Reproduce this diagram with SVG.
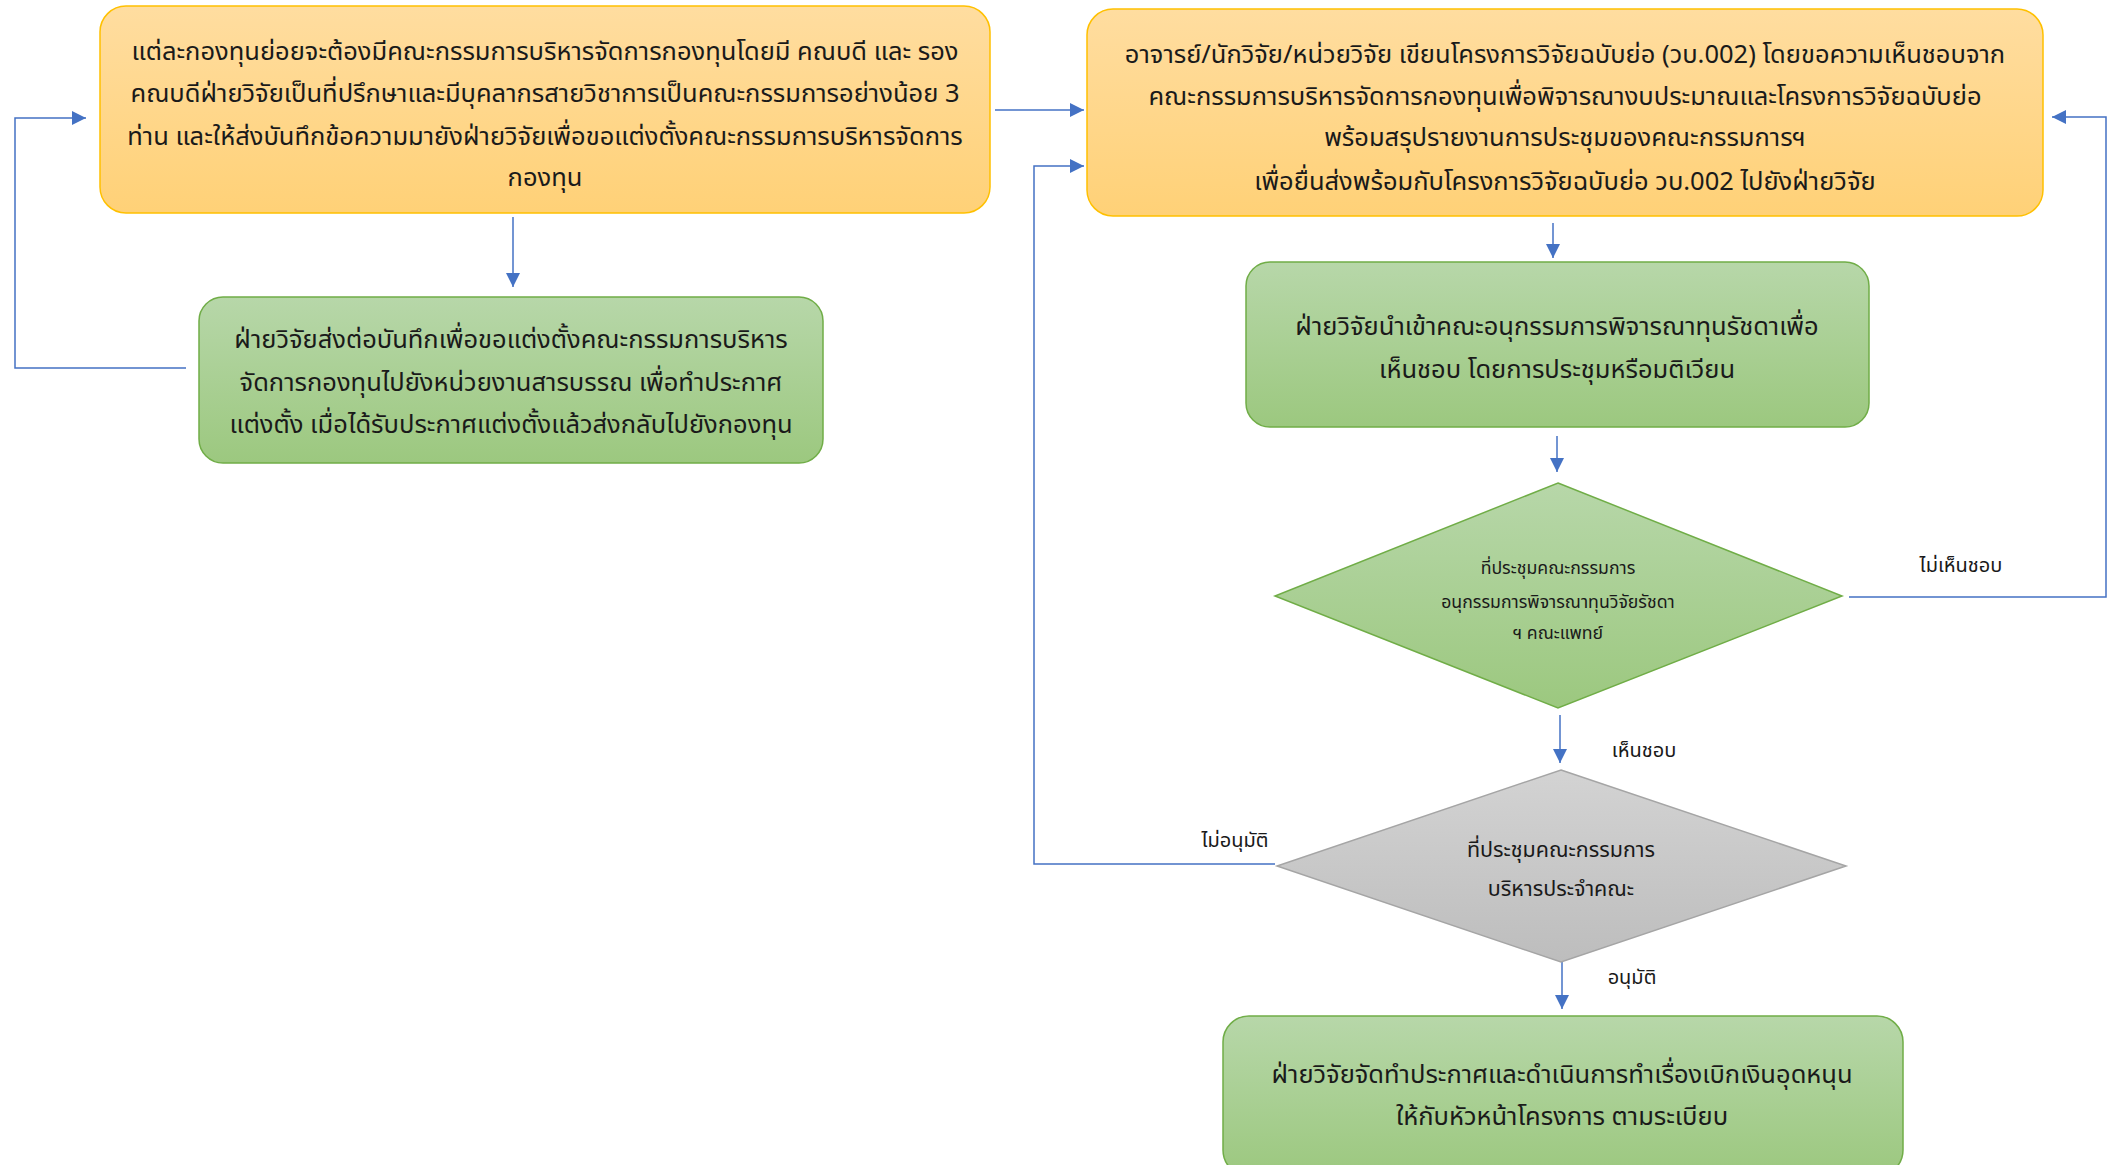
<svg xmlns="http://www.w3.org/2000/svg" width="2119" height="1165" viewBox="0 0 2119 1165">
<defs>
<linearGradient id="gOrange" x1="0" y1="0" x2="0" y2="1"><stop offset="0" stop-color="#FFDDA0"/><stop offset="1" stop-color="#FFD177"/></linearGradient>
<linearGradient id="gGreen" x1="0" y1="0" x2="0" y2="1"><stop offset="0" stop-color="#B7D7A9"/><stop offset="1" stop-color="#9CC87F"/></linearGradient>
<linearGradient id="gGray" x1="0" y1="0" x2="0" y2="1"><stop offset="0" stop-color="#D3D3D3"/><stop offset="1" stop-color="#BDBDBD"/></linearGradient>
<marker id="arr" markerUnits="userSpaceOnUse" markerWidth="16" markerHeight="14" refX="14" refY="7" orient="auto"><path d="M0,0 L14,7 L0,14 Z" fill="#4472C4"/></marker>
<style>
.orange{fill:url(#gOrange);stroke:#FFC000;stroke-width:1.5}
.green{fill:url(#gGreen);stroke:#70AD47;stroke-width:1.5}
.gray{fill:url(#gGray);stroke:#A5A5A5;stroke-width:1.5}
.t{font-family:'Noto Sans Thai','Noto Sans','DejaVu Sans',sans-serif;font-size:25.5px;fill:#1a1a1a;text-anchor:middle}
.ts{font-family:'Noto Sans Thai','Noto Sans','DejaVu Sans',sans-serif;font-size:17.7px;fill:#1a1a1a;text-anchor:middle}
.tm{font-family:'Noto Sans Thai','Noto Sans','DejaVu Sans',sans-serif;font-size:20px;fill:#1a1a1a;text-anchor:middle}
.tl{font-family:'Noto Sans Thai','Noto Sans','DejaVu Sans',sans-serif;font-size:21.5px;fill:#1a1a1a;text-anchor:middle}
.c{fill:none;stroke:#4472C4;stroke-width:1.5;marker-end:url(#arr)}
.cn{fill:none;stroke:#4472C4;stroke-width:1.5}
</style>
</defs>
<g id="connectors">
<path class="c" d="M513,217 V287"/>
<path class="c" d="M186,368 H15 V118 H86"/>
<path class="c" d="M995,110 H1084"/>
<path class="c" d="M1275,864 H1034 V166 H1084"/>
<path class="c" d="M1553,223 V258"/>
<path class="c" d="M1557,436 V472"/>
<path class="c" d="M1849,597 H2106 V117 H2052"/>
<path class="c" d="M1560,715 V763"/>
<path class="c" d="M1562,962 V1009"/>
<text class="tm" x="1961" y="572">ไม่เห็นชอบ</text>
<text class="tm" x="1644" y="757">เห็นชอบ</text>
<text class="tm" x="1235" y="847">ไม่อนุมัติ</text>
<text class="tm" x="1632" y="984">อนุมัติ</text>
</g>
<g id="nodeA">
<rect class="orange" x="100" y="6" width="890" height="207" rx="26"/>
<text class="t" x="545" y="60">แต่ละกองทุนย่อยจะต้องมีคณะกรรมการบริหารจัดการกองทุนโดยมี คณบดี และ รอง</text>
<text class="t" x="545" y="102">คณบดีฝ่ายวิจัยเป็นที่ปรึกษาและมีบุคลากรสายวิชาการเป็นคณะกรรมการอย่างน้อย 3</text>
<text class="t" x="545" y="145">ท่าน และให้ส่งบันทึกข้อความมายังฝ่ายวิจัยเพื่อขอแต่งตั้งคณะกรรมการบริหารจัดการ</text>
<text class="t" x="545" y="186">กองทุน</text>
</g>
<g id="nodeC">
<rect class="green" x="199" y="297" width="624" height="166" rx="24"/>
<text class="t" x="511" y="348">ฝ่ายวิจัยส่งต่อบันทึกเพื่อขอแต่งตั้งคณะกรรมการบริหาร</text>
<text class="t" x="511" y="391">จัดการกองทุนไปยังหน่วยงานสารบรรณ เพื่อทำประกาศ</text>
<text class="t" x="511" y="433">แต่งตั้ง เมื่อได้รับประกาศแต่งตั้งแล้วส่งกลับไปยังกองทุน</text>
</g>
<g id="nodeB">
<rect class="orange" x="1087" y="9" width="956" height="207" rx="26"/>
<text class="t" x="1565" y="63">อาจารย์/นักวิจัย/หน่วยวิจัย เขียนโครงการวิจัยฉบับย่อ (วบ.002) โดยขอความเห็นชอบจาก</text>
<text class="t" x="1565" y="105">คณะกรรมการบริหารจัดการกองทุนเพื่อพิจารณางบประมาณและโครงการวิจัยฉบับย่อ</text>
<text class="t" x="1565" y="146">พร้อมสรุปรายงานการประชุมของคณะกรรมการฯ</text>
<text class="t" x="1565" y="190">เพื่อยื่นส่งพร้อมกับโครงการวิจัยฉบับย่อ วบ.002 ไปยังฝ่ายวิจัย</text>
</g>
<g id="nodeD">
<rect class="green" x="1246" y="262" width="623" height="165" rx="24"/>
<text class="t" x="1557" y="335">ฝ่ายวิจัยนำเข้าคณะอนุกรรมการพิจารณาทุนรัชดาเพื่อ</text>
<text class="t" x="1557" y="378">เห็นชอบ โดยการประชุมหรือมติเวียน</text>
</g>
<g id="decision1">
<polygon class="green" points="1558,483 1842,596 1558,708 1275,596"/>
<text class="ts" x="1558" y="574">ที่ประชุมคณะกรรมการ</text>
<text class="ts" x="1558" y="608">อนุกรรมการพิจารณาทุนวิจัยรัชดา</text>
<text class="ts" x="1558" y="639">ฯ คณะแพทย์</text>
</g>
<g id="decision2">
<polygon class="gray" points="1561,770 1846,866 1561,962 1277,866"/>
<text class="tl" x="1561" y="857">ที่ประชุมคณะกรรมการ</text>
<text class="tl" x="1561" y="896">บริหารประจำคณะ</text>
</g>
<g id="nodeE">
<rect class="green" x="1223" y="1016" width="680" height="160" rx="26"/>
<text class="t" x="1562" y="1083">ฝ่ายวิจัยจัดทำประกาศและดำเนินการทำเรื่องเบิกเงินอุดหนุน</text>
<text class="t" x="1562" y="1125">ให้กับหัวหน้าโครงการ ตามระเบียบ</text>
</g>
</svg>
